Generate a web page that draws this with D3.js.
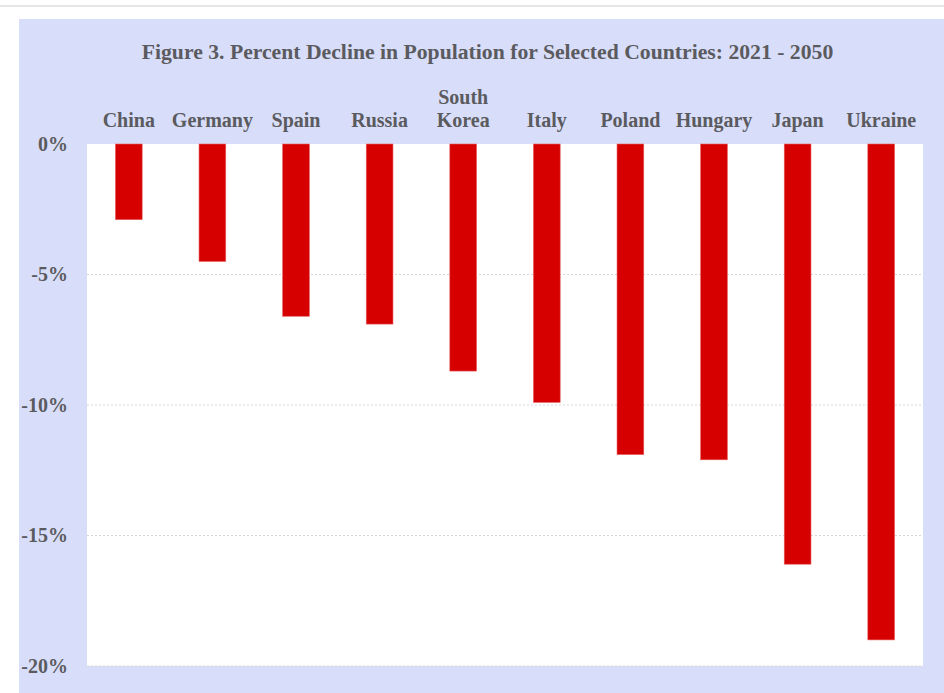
<!DOCTYPE html>
<html><head><meta charset="utf-8">
<script src="https://cdn.jsdelivr.net/npm/d3@7"></script>
<style>body{margin:0;background:#fff;} svg{display:block;}</style>
</head><body>
<script>
const title = "Figure 3. Percent Decline in Population for Selected Countries: 2021 - 2050";
const countries = ["China","Germany","Spain","Russia","South Korea","Italy","Poland","Hungary","Japan","Ukraine"];
const declines = [-2.9,-4.5,-6.6,-6.9,-8.7,-9.9,-11.9,-12.1,-16.1,-19.0];
const yTicks = [0,-5,-10,-15,-20];

const W = 944, H = 693;
const svg = d3.select("body").append("svg").attr("width",W).attr("height",H);
const font = "'Liberation Serif','Times New Roman',serif";
const txt = "#5b5b5f";

svg.append("rect").attr("x",0).attr("y",5).attr("width",W).attr("height",2).attr("fill","#e6e6e6");
svg.append("rect").attr("x",19).attr("y",19).attr("width",W-19).attr("height",H-19).attr("fill","#d8defa");

const plot = {l:87, r:923, t:144, b:666};
svg.append("rect").attr("x",plot.l).attr("y",plot.t).attr("width",plot.r-plot.l).attr("height",plot.b-plot.t).attr("fill","#fff");

const x = d3.scaleBand().domain(countries).range([plot.l,plot.r]).paddingInner(0.68).paddingOuter(0.34);
const y = d3.scaleLinear().domain([0,-20]).range([plot.t,plot.b]);

// gridlines
svg.append("g").selectAll("line").data(yTicks.filter(d=>d!==0)).join("line")
  .attr("x1",plot.l).attr("x2",plot.r).attr("y1",d=>y(d)).attr("y2",d=>y(d))
  .attr("stroke","#d6d6d6").attr("stroke-width",1).attr("stroke-dasharray","2,2");

// bars
svg.append("g").selectAll("rect").data(countries).join("rect")
  .attr("x",d=>x(d)).attr("width",x.bandwidth())
  .attr("y",y(0)).attr("height",(d,i)=>y(declines[i])-y(0))
  .attr("fill","#d60000").attr("stroke","#e86060").attr("stroke-width",0.6);

// y axis
const yAxis = d3.axisLeft(y).tickValues(yTicks).tickSize(0).tickPadding(19).tickFormat(d=>d+"%");
const ga = svg.append("g").attr("transform",`translate(${plot.l},0)`).call(yAxis);
ga.select(".domain").remove();
ga.selectAll("text").attr("font-family",font).attr("font-weight","bold").attr("font-size",20).attr("fill",txt);

// category labels
const cat = svg.append("g");
countries.forEach(c=>{
  const parts = c==="South Korea" ? ["South","Korea"] : [c];
  const t = cat.append("text").attr("text-anchor","middle").attr("font-family",font).attr("font-weight","bold")
    .attr("font-size",20).attr("fill",txt);
  parts.forEach((p,i)=>{
    t.append("tspan").attr("x",x(c)+x.bandwidth()/2).attr("y",127-(parts.length-1-i)*23).text(p);
  });
});

svg.append("text").attr("x",(141+834)/2).attr("y",59).attr("text-anchor","middle")
  .attr("font-family",font).attr("font-weight","bold").attr("font-size",21.7).attr("fill",txt).text(title);
</script>
</body></html>
